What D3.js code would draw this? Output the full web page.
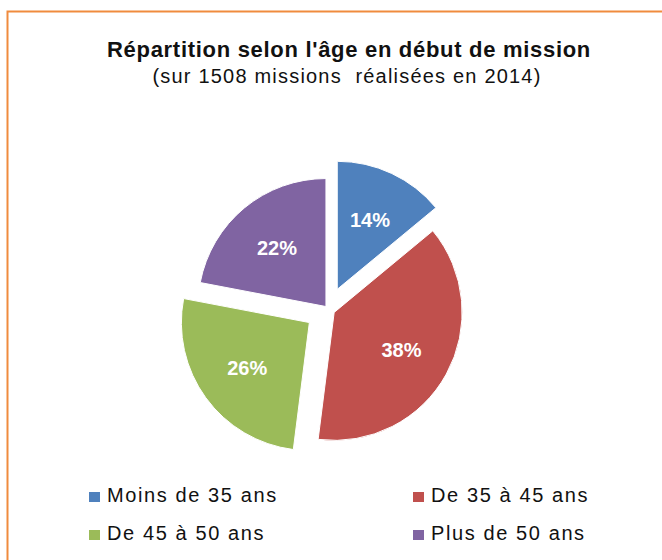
<!DOCTYPE html>
<html>
<head>
<meta charset="utf-8">
<script src="https://cdn.jsdelivr.net/npm/d3@7"></script>
<style>
  body { margin: 0; background: #fff; }
  svg { display: block; font-family: 'Liberation Sans', Arial, sans-serif; }
</style>
</head>
<body>
<svg id="chart" width="662" height="560"></svg>
<script>
//data
var categories = ['Moins de 35 ans', 'De 35 à 45 ans', 'De 45 à 50 ans', 'Plus de 50 ans'];
var values = [14, 38, 26, 22];
var explode = [0.17, 0.055, 0.18, 0.025];
var colors = ['#4F81BD', '#C0504D', '#9BBB59', '#8064A2'];
var title = "Répartition selon l'âge en début de mission";
var subtitle = '(sur 1508 missions  réalisées en 2014)';

var width = 662, height = 560;
var cx = 328, cy = 309, radius = 128;

var svg = d3.select('#chart');

//frame
svg.append('rect')
  .attr('x', 7.5)
  .attr('y', 11.5)
  .attr('width', 720)
  .attr('height', 620)
  .attr('fill', '#fff')
  .attr('stroke', '#F08B3E')
  .attr('stroke-width', 2);

//titles
svg.append('text')
  .attr('x', 349)
  .attr('y', 57)
  .attr('text-anchor', 'middle')
  .attr('font-size', 22)
  .attr('font-weight', 'bold')
  .attr('letter-spacing', 0.7)
  .attr('fill', '#111')
  .text(title);

svg.append('text')
  .attr('x', 347)
  .attr('y', 83)
  .attr('text-anchor', 'middle')
  .attr('font-size', 20)
  .attr('letter-spacing', 1.2)
  .style('white-space', 'pre')
  .attr('fill', '#111')
  .text(subtitle);

//pie
var pie = d3.pie().sort(null).value(function(d) { return d; });
var arcs = pie(values);
var arc = d3.arc().innerRadius(0).outerRadius(radius);
var labelArc = d3.arc().innerRadius(radius * 0.6).outerRadius(radius * 0.6);
var total = d3.sum(values);

var g = svg.append('g')
  .attr('transform', 'translate(' + cx + ',' + cy + ')');

var slices = g.selectAll('.slice')
  .data(arcs)
  .enter().append('g')
  .attr('class', 'slice')
  .attr('transform', function(d, i) {
    var a = (d.startAngle + d.endAngle) / 2;
    var off = explode[i] * radius;
    return 'translate(' + (Math.sin(a) * off) + ',' + (-Math.cos(a) * off) + ')';
  });

slices.append('path')
  .attr('d', arc)
  .attr('fill', function(d, i) { return colors[i]; })
  .attr('stroke', '#fff')
  .attr('stroke-width', 1);

slices.append('text')
  .attr('transform', function(d) { return 'translate(' + labelArc.centroid(d) + ')'; })
  .attr('text-anchor', 'middle')
  .attr('dy', '0.36em')
  .attr('font-size', 20)
  .attr('font-weight', 'bold')
  .attr('fill', '#fff')
  .text(function(d) { return Math.round(d.value / total * 100) + '%'; });

//legend
var legendX = d3.scalePoint().domain([0, 1]).range([89, 413]);
var legendY = d3.scalePoint().domain([0, 1]).range([502, 540]);

var legend = svg.selectAll('.legend-item')
  .data(categories)
  .enter().append('g')
  .attr('class', 'legend-item')
  .attr('transform', function(d, i) {
    return 'translate(' + legendX(i % 2) + ',' + legendY(Math.floor(i / 2)) + ')';
  });

legend.append('rect')
  .attr('x', 0)
  .attr('y', -10)
  .attr('width', 11)
  .attr('height', 10)
  .attr('fill', function(d, i) { return colors[i]; });

legend.append('text')
  .attr('x', 18)
  .attr('y', 0)
  .attr('font-size', 20)
  .attr('letter-spacing', 1.6)
  .attr('fill', '#111')
  .text(function(d) { return d; });
</script>
</body>
</html>
